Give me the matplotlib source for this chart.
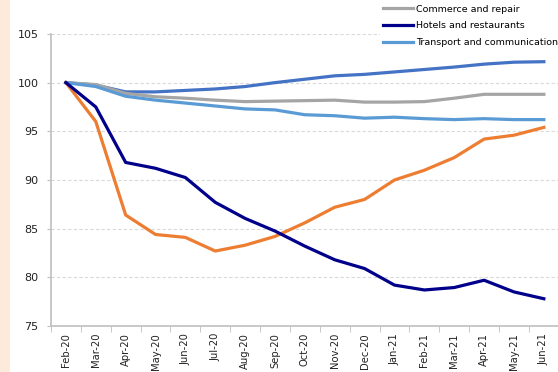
import numpy as np
import matplotlib.pyplot as plt
from matplotlib.patches import Rectangle

months = ['Feb-20', 'Mar-20', 'Apr-20', 'May-20', 'Jun-20', 'Jul-20', 'Aug-20', 'Sep-20',
          'Oct-20', 'Nov-20', 'Dec-20', 'Jan-21', 'Feb-21', 'Mar-21', 'Apr-21', 'May-21', 'Jun-21']

commerce = [100, 99.8, 98.9, 98.55, 98.4, 98.2, 98.05, 98.1, 98.15, 98.2, 98.0, 98.0, 98.05, 98.4, 98.8, 98.8, 98.8]
hotels = [100, 97.5, 91.8, 91.2, 90.25, 87.7, 86.05, 84.75, 83.2, 81.8, 80.9, 79.2, 78.7, 78.95, 79.7, 78.5, 77.8]
transport = [100, 99.6, 98.6, 98.2, 97.9, 97.6, 97.3, 97.2, 96.7, 96.6, 96.35, 96.45, 96.3, 96.2, 96.3, 96.2, 96.2]
orange_series = [100, 96.0, 86.4, 84.4, 84.1, 82.7, 83.3, 84.2, 85.6, 87.2, 88.0, 90.0, 91.0, 92.3, 94.2, 94.6, 95.4]
blue_series = [100, 99.75, 99.05, 99.05, 99.2, 99.35, 99.6, 100.0, 100.35, 100.7, 100.85, 101.1, 101.35, 101.6, 101.9, 102.1, 102.15]

y_ticks = [75, 80, 85, 90, 95, 100, 105]

fig = plt.figure(figsize=(5.58, 3.72), dpi=100, facecolor='w')
fig.patches.append(Rectangle((0, 0), 10 / 558, 1, transform=fig.transFigure,
                             facecolor='#FDEADA', edgecolor='none', zorder=0))

ax = fig.add_axes([0.0914, 0.1237, 0.91, 0.785])
x = np.arange(len(months))
lw = 2.3

ax.plot(x, blue_series, color='#4472C4', lw=lw, zorder=3)
l1, = ax.plot(x, commerce, color='#A5A5A5', lw=lw, zorder=3, label='Commerce and repair')
l3, = ax.plot(x, transport, color='#5B9BD5', lw=lw, zorder=4, label='Transport and communication')
ax.plot(x, orange_series, color='#ED7D31', lw=lw, zorder=4)
l2, = ax.plot(x, hotels, color='#00008B', lw=lw, zorder=5, label='Hotels and restaurants')

ax.set_xlim(-0.5, len(months) - 0.5)
ax.set_ylim(75, 105)
ax.set_yticks(y_ticks)
ax.set_xticks(x)
ax.set_xticklabels(months, rotation=90, fontsize=7.2, color='#222222')
ax.set_xticks(np.arange(len(months)) - 0.5, minor=True)
ax.tick_params(axis='x', which='major', length=0, pad=5)
ax.tick_params(axis='x', which='minor', length=4, color='#BFBFBF', direction='out')
ax.tick_params(axis='y', length=3, color='#BFBFBF', labelsize=8, labelcolor='#222222', pad=6)

ax.grid(axis='y', color='#D9D9D9', linestyle=(0, (3, 2)), lw=0.8)
ax.set_axisbelow(True)
for s in ['top', 'right']:
    ax.spines[s].set_visible(False)
for s in ['left', 'bottom']:
    ax.spines[s].set_color('#BFBFBF')
    ax.spines[s].set_linewidth(1.2)

leg = fig.legend(handles=[l1, l2, l3], loc='upper right', bbox_to_anchor=(1.008, 1.0),
                 frameon=True, fontsize=6.8, handlelength=3.2, handletextpad=0.25,
                 labelspacing=0.8, borderaxespad=0.2, borderpad=0.3)
leg.get_frame().set_edgecolor('none')
leg.get_frame().set_facecolor('white')
leg.get_frame().set_alpha(1)

plt.savefig('out.png', dpi=100)
